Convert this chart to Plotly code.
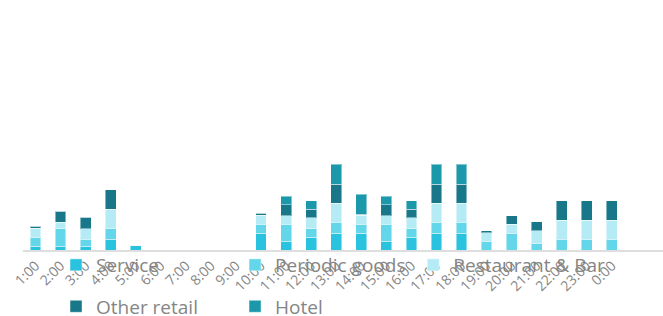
import plotly.graph_objects as go

hours = ["1:00", "2:00", "3:00", "4:00", "5:00", "6:00", "7:00", "8:00", "9:00", "10:00",
         "11:00", "12:00", "13:00", "14:00", "15:00", "16:00", "17:00", "18:00", "19:00",
         "20:00", "21:00", "22:00", "23:00", "0:00"]

service = [4, 4, 4, 11, 4.7, 0, 0, 0, 0, 17, 8.7, 13, 17, 17, 8.7, 13, 17, 17, 0, 0, 0, 0, 0, 0]
periodic_goods = [9, 17.3, 6.7, 10.7, 0, 0, 0, 0, 0, 9, 17, 8.3, 11, 9, 17, 8.3, 11, 11, 8.7, 17, 6.7, 10.7, 10.7, 10.7]
restaurant_bar = [8.7, 6.7, 10.7, 19, 0, 0, 0, 0, 0, 8.7, 8.7, 11, 19, 8.7, 8.7, 11, 19, 19, 8.7, 8.7, 12.7, 19.3, 19.3, 19.3]
other_retail = [2, 10.7, 11.3, 19.7, 0, 0, 0, 0, 0, 2, 10.7, 8.3, 19, 1.3, 10.7, 8.3, 19, 19, 2, 8.7, 8.7, 19.3, 19.3, 19.3]
hotel = [0, 0, 0, 0, 0, 0, 0, 0, 0, 0, 8.7, 8.7, 19.7, 19.7, 8.7, 8.7, 19.7, 19.7, 0, 0, 0, 0, 0, 0]

series_names = ["Service", "Periodic goods", "Restaurant & Bar", "Other retail", "Hotel"]
series_values = [service, periodic_goods, restaurant_bar, other_retail, hotel]
series_colors = ["#29c3e0", "#64d6ea", "#b4ebf5", "#19778a", "#1c98ab"]

# legend slot (column, row) per series
legend_cols = [0, 1, 2, 0, 1]
legend_rows = [0, 0, 0, 1, 1]
col_x = [0.0516, 0.3313, 0.6098]
row_y = [-0.0625, -0.235]

font_family = "Open Sans, sans-serif"

fig = go.Figure()
legend_layouts = {}
for i, (name, vals, color) in enumerate(zip(series_names, series_values, series_colors)):
    lg = "legend" if i == 0 else f"legend{i + 1}"
    fig.add_trace(go.Bar(
        x=hours, y=vals, name=name, legend=lg,
        marker=dict(color=color, line=dict(color="rgba(255,255,255,0.45)", width=1)),
        width=0.43,
    ))
    legend_layouts[lg] = dict(
        orientation="h", x=col_x[legend_cols[i]], xanchor="left",
        y=row_y[legend_rows[i]], yanchor="middle",
        bgcolor="rgba(0,0,0,0)",
        font=dict(family=font_family, size=19, color="#858585"),
    )

fig.update_layout(
    width=663, height=316,
    barmode="stack",
    plot_bgcolor="white", paper_bgcolor="white",
    margin=dict(l=23, r=0, t=10, b=66, autoexpand=False),
    font=dict(family=font_family, color="#858585"),
    showlegend=True,
    xaxis=dict(range=[-0.5, 25.04], showline=True, linecolor="#dedede", linewidth=2,
               showgrid=False, ticks="", tickangle=-45,
               tickfont=dict(family=font_family, size=14, color="#858585")),
    yaxis=dict(range=[0, 240], visible=False, showgrid=False, zeroline=False),
    **legend_layouts,
)

fig.write_html("out.html", config={"displayModeBar": False},
               post_script="document.body.style.margin='0';")
